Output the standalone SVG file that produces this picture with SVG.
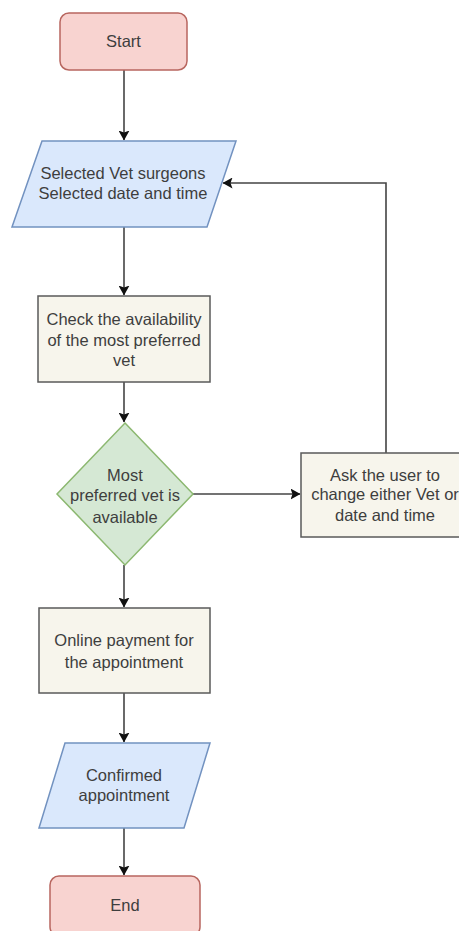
<svg xmlns="http://www.w3.org/2000/svg" width="459" height="931" viewBox="0 0 459 931">
<style>
text{font-family:"Liberation Sans",Arial,sans-serif;font-size:16.5px;fill:#3e3e3e;text-anchor:middle}
.term{fill:#f8d3d0;stroke:#b8665f;stroke-width:1.5}
.io{fill:#dae8fc;stroke:#7292c0;stroke-width:1.5}
.proc{fill:#f7f5ec;stroke:#5a5a5a;stroke-width:1.5}
.dec{fill:#d5e8d4;stroke:#8cb870;stroke-width:1.5}
.edge{fill:none;stroke:#444;stroke-width:1.6;marker-end:url(#arr)}
</style>
<defs>
<marker id="arr" viewBox="0 0 10 11" refX="9.5" refY="5.5" markerWidth="10" markerHeight="11" markerUnits="userSpaceOnUse" orient="auto">
<path d="M0,0 L10,5.5 L0,11 L2,5.5 z" fill="#111"/>
</marker>
</defs>
<rect width="459" height="931" fill="#fff"/>
<g id="connectors">
<path class="edge" d="M124,70 V140"/>
<path class="edge" d="M124,227 V295"/>
<path class="edge" d="M124,382 V422"/>
<path class="edge" d="M193,494 H300"/>
<path class="edge" d="M386,453 V183 H223"/>
<path class="edge" d="M124,565 V607"/>
<path class="edge" d="M124,693 V742"/>
<path class="edge" d="M124,828 V875"/>
</g>
<g id="start">
<rect class="term" x="60" y="13" width="127" height="57" rx="9"/>
<text x="123.5" y="47">Start</text>
</g>
<g id="selected">
<polygon class="io" points="42,141 236,141 207,227 12,227"/>
<text x="123" y="179">Selected Vet surgeons</text>
<text x="123" y="199">Selected date and time</text>
</g>
<g id="check">
<rect class="proc" x="38" y="296" width="172" height="86"/>
<text x="124" y="325">Check the availability</text>
<text x="124" y="346">of the most preferred</text>
<text x="124" y="366">vet</text>
</g>
<g id="decision">
<polygon class="dec" points="125,423 193,494 125,565 57,494"/>
<text x="125" y="481">Most</text>
<text x="125" y="501">preferred vet is</text>
<text x="125" y="523">available</text>
</g>
<g id="ask">
<rect class="proc" x="301" y="453" width="168" height="84"/>
<text x="385" y="481">Ask the user to</text>
<text x="385" y="500">change either Vet or</text>
<text x="385" y="521">date and time</text>
</g>
<g id="payment">
<rect class="proc" x="39" y="608" width="171" height="85"/>
<text x="124" y="646">Online payment for</text>
<text x="124" y="668">the appointment</text>
</g>
<g id="confirmed">
<polygon class="io" points="65,743 210,743 184,828 39,828"/>
<text x="124" y="781">Confirmed</text>
<text x="124" y="801">appointment</text>
</g>
<g id="end">
<rect class="term" x="50" y="876" width="150" height="60" rx="9"/>
<text x="125" y="911">End</text>
</g>
</svg>
